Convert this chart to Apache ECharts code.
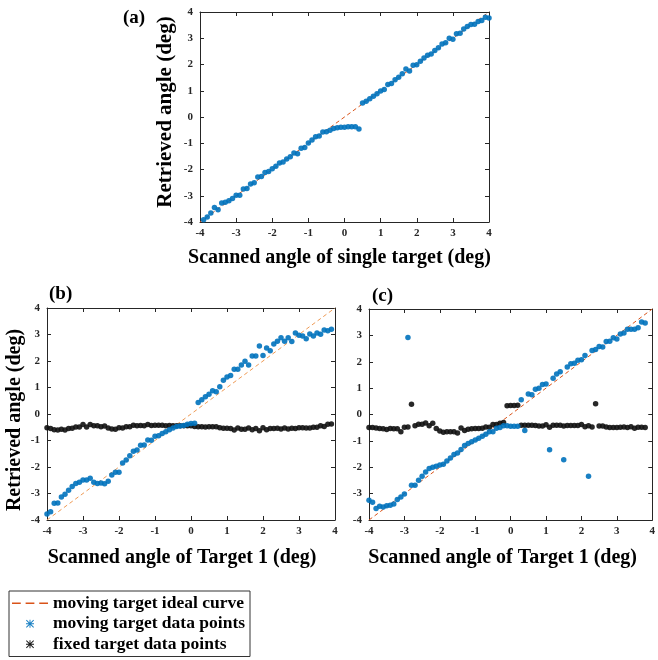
<!DOCTYPE html>
<html>
<head>
<meta charset="utf-8">
<script src="https://cdn.jsdelivr.net/npm/echarts@6/dist/echarts.min.js"></script>
<style>
  html, body { margin: 0; padding: 0; background: #fff; }
  #chart { width: 658px; height: 660px; }
</style>
</head>
<body>
<div id="chart"></div>
<script>
// ---- data ----
const idealX = [-4, 4];
const idealY = [-4, 4];

// (a) single target
const xA = [-3.9, -3.8, -3.7, -3.6, -3.5, -3.4, -3.3, -3.2, -3.1, -3.0,
  -2.9, -2.8, -2.7, -2.6, -2.5, -2.4, -2.3, -2.2, -2.1, -2.0,
  -1.9, -1.8, -1.7, -1.6, -1.5, -1.4, -1.3, -1.2, -1.1, -1.0,
  -0.9, -0.8, -0.7, -0.6, -0.5, -0.4, -0.3, -0.2, -0.1, 0.0,
  0.1, 0.2, 0.3, 0.4, 0.5, 0.6, 0.7, 0.8, 0.9, 1.0,
  1.1, 1.2, 1.3, 1.4, 1.5, 1.6, 1.7, 1.8, 1.9, 2.0,
  2.1, 2.2, 2.3, 2.4, 2.5, 2.6, 2.7, 2.8, 2.9, 3.0,
  3.1, 3.2, 3.3, 3.4, 3.5, 3.6, 3.7, 3.8, 3.9, 4.0];
const movingA = [-3.91, -3.81, -3.66, -3.45, -3.53, -3.28, -3.25, -3.19, -3.10, -2.98,
  -2.98, -2.74, -2.72, -2.55, -2.50, -2.29, -2.27, -2.11, -2.08, -1.97,
  -1.88, -1.75, -1.71, -1.60, -1.51, -1.37, -1.40, -1.19, -1.16, -0.99,
  -0.88, -0.75, -0.72, -0.57, -0.56, -0.50, -0.44, -0.41, -0.39, -0.39,
  -0.37, -0.37, -0.37, -0.46, 0.53, 0.60, 0.70, 0.79, 0.89, 0.99,
  1.05, 1.24, 1.28, 1.42, 1.51, 1.65, 1.83, 1.75, 1.97, 1.99,
  2.12, 2.25, 2.35, 2.40, 2.53, 2.64, 2.78, 2.83, 3.00, 2.96,
  3.17, 3.19, 3.35, 3.45, 3.52, 3.53, 3.64, 3.68, 3.80, 3.77];

// (b) two targets
const xB = [-4.0, -3.9, -3.8, -3.7, -3.6, -3.5, -3.4, -3.3, -3.2, -3.1,
  -3.0, -2.9, -2.8, -2.7, -2.6, -2.5, -2.4, -2.3, -2.2, -2.1,
  -2.0, -1.9, -1.8, -1.7, -1.6, -1.5, -1.4, -1.3, -1.2, -1.1,
  -1.0, -0.9, -0.8, -0.7, -0.6, -0.5, -0.4, -0.3, -0.2, -0.1,
  0.0, 0.1, 0.2, 0.3, 0.4, 0.5, 0.6, 0.7, 0.8, 0.9,
  1.0, 1.1, 1.2, 1.3, 1.4, 1.5, 1.6, 1.7, 1.8, 1.9,
  2.0, 2.1, 2.2, 2.3, 2.4, 2.5, 2.6, 2.7, 2.8, 2.9,
  3.0, 3.1, 3.2, 3.3, 3.4, 3.5, 3.6, 3.7, 3.8, 3.9];
const movingB = [-3.77, -3.69, -3.37, -3.36, -3.13, -3.03, -2.88, -2.74, -2.62, -2.58,
  -2.49, -2.49, -2.42, -2.58, -2.62, -2.60, -2.63, -2.54, -2.30, -2.20,
  -2.20, -1.85, -1.74, -1.58, -1.41, -1.36, -1.18, -1.17, -0.98, -0.99,
  -0.84, -0.82, -0.74, -0.67, -0.59, -0.53, -0.47, -0.45, -0.43, -0.39,
  -0.36, -0.35, 0.43, 0.54, 0.65, 0.75, 0.88, 0.84, 1.03, 1.27,
  1.40, 1.45, 1.69, 1.69, 1.85, 1.99, 1.85, 2.19, 2.19, 2.57,
  2.21, 2.49, 2.39, 2.64, 2.75, 2.88, 2.75, 2.88, 2.74, 3.06,
  2.97, 2.94, 2.84, 3.02, 2.94, 3.06, 3.01, 3.17, 3.14, 3.20];
const fixedB = [-0.52, -0.55, -0.59, -0.60, -0.58, -0.60, -0.55, -0.54, -0.49, -0.49,
  -0.40, -0.49, -0.40, -0.44, -0.44, -0.48, -0.45, -0.53, -0.57, -0.58,
  -0.52, -0.53, -0.48, -0.48, -0.42, -0.44, -0.43, -0.44, -0.40, -0.43,
  -0.42, -0.42, -0.42, -0.44, -0.43, -0.44, -0.44, -0.44, -0.44, -0.44,
  -0.44, -0.47, -0.48, -0.48, -0.49, -0.48, -0.48, -0.48, -0.52, -0.54,
  -0.54, -0.55, -0.60, -0.53, -0.58, -0.58, -0.53, -0.59, -0.55, -0.63,
  -0.52, -0.59, -0.55, -0.55, -0.54, -0.57, -0.53, -0.57, -0.54, -0.55,
  -0.52, -0.52, -0.53, -0.53, -0.50, -0.50, -0.44, -0.47, -0.39, -0.38];

// (c) two targets, second case
const xC = [-4.0, -3.9, -3.8, -3.7, -3.6, -3.5, -3.4, -3.3, -3.2, -3.1,
  -3.0, -2.9, -2.8, -2.7, -2.6, -2.5, -2.4, -2.3, -2.2, -2.1,
  -2.0, -1.9, -1.8, -1.7, -1.6, -1.5, -1.4, -1.3, -1.2, -1.1,
  -1.0, -0.9, -0.8, -0.7, -0.6, -0.5, -0.4, -0.3, -0.2, -0.1,
  0.0, 0.1, 0.2, 0.3, 0.4, 0.5, 0.6, 0.7, 0.8, 0.9,
  1.0, 1.1, 1.2, 1.3, 1.4, 1.5, 1.6, 1.7, 1.8, 1.9,
  2.0, 2.1, 2.2, 2.3, 2.4, 2.5, 2.6, 2.7, 2.8, 2.9,
  3.0, 3.1, 3.2, 3.3, 3.4, 3.5, 3.6, 3.7, 3.8];
const movingC = [-3.25, -3.33, -3.56, -3.48, -3.51, -3.46, -3.44, -3.39, -3.22, -3.13,
  -3.01, 2.92, -2.68, -2.68, -2.49, -2.34, -2.18, -2.05, -2.00, -1.96,
  -1.91, -1.89, -1.76, -1.65, -1.52, -1.46, -1.33, -1.18, -1.10, -1.03,
  -0.97, -0.90, -0.82, -0.75, -0.65, -0.65, -0.52, -0.49, -0.43, -0.43,
  -0.45, -0.45, -0.45, 0.56, -0.61, 0.78, 0.75, 0.96, 1.00, 1.14,
  1.16, -1.34, 1.37, 1.54, 1.62, -1.72, 1.80, 1.92, 1.94, 2.06,
  2.08, 2.24, -2.34, 2.43, 2.46, 2.58, 2.56, 2.77, 2.78, 2.91,
  2.86, 3.05, 3.09, 3.23, 3.23, 3.23, 3.29, 3.51, 3.47];
const fixedC = [-0.49, -0.49, -0.51, -0.53, -0.54, -0.57, -0.53, -0.54, -0.54, -0.65,
  -0.48, -0.47, 0.39, -0.43, -0.37, -0.37, -0.32, -0.43, -0.33, -0.53,
  -0.63, -0.67, -0.65, -0.65, -0.65, -0.70, -0.51, -0.61, -0.56, -0.54,
  -0.53, -0.53, -0.52, -0.47, -0.48, -0.38, -0.38, -0.33, -0.30, 0.33,
  0.34, 0.34, 0.35, -0.41, -0.41, -0.41, -0.41, -0.42, -0.44, -0.44,
  -0.39, -0.48, -0.41, -0.41, -0.41, -0.44, -0.42, -0.42, -0.42, -0.42,
  -0.38, -0.46, -0.43, -0.47, 0.41, -0.44, -0.44, -0.47, -0.49, -0.49,
  -0.49, -0.48, -0.47, -0.49, -0.46, -0.52, -0.48, -0.48, -0.49];

const NAME_IDEAL = 'moving target ideal curve';
const NAME_MOVING = 'moving target data points';
const NAME_FIXED = 'fixed target data points';

// ---- styling ----
const serif = '"Liberation Serif", "Times New Roman", serif';
const axisCol = '#262626';
const blue = '#0072BD';
const orange = '#D95319';
const star = 'path://M4.4,0h1.2v10h-1.2z M0,4.4h10v1.2h-10z M0.85,0L10,9.15L9.15,10L0,0.85z M9.15,0L10,0.85L0.85,10L0,9.15z';
const dashIcon = 'path://M0,0h9v1.6h-9z M14,0h9v1.6h-9z M28,0h9v1.6h-9z';

function zip(xs, ys) {
  return xs.map((x, i) => [x, ys[i]]);
}

function mainX(gi, name, gap, shift) {
  return {
    type: 'value', gridIndex: gi, min: -4, max: 4, interval: 1, position: 'bottom',
    name: name, nameLocation: 'middle', nameGap: gap,
    nameTextStyle: { fontFamily: serif, fontWeight: 'bold', fontSize: 20, color: '#000', padding: [0, shift, 0, 0] },
    axisLine: { show: true, onZero: false, lineStyle: { color: axisCol, width: 1 } },
    axisTick: { show: true, inside: true, length: 4, lineStyle: { color: axisCol } },
    axisLabel: { fontFamily: serif, fontWeight: 'bold', fontSize: 11, color: axisCol, margin: 6 },
    splitLine: { show: false }
  };
}
function boxX(gi) {
  return {
    type: 'value', gridIndex: gi, min: -4, max: 4, interval: 1, position: 'top',
    axisLine: { show: true, onZero: false, lineStyle: { color: axisCol, width: 1 } },
    axisTick: { show: true, inside: true, length: 4, lineStyle: { color: axisCol } },
    axisLabel: { show: false }, splitLine: { show: false }
  };
}
// pad: [left, right] padding of the rotated name, used to nudge it along the axis
function mainY(gi, name, gap, size, pad) {
  return {
    type: 'value', gridIndex: gi, min: -4, max: 4, interval: 1, position: 'left',
    name: name, nameLocation: 'middle', nameGap: gap, nameRotate: 90,
    nameTextStyle: { fontFamily: serif, fontWeight: 'bold', fontSize: size, color: '#000', padding: [0, pad[1], 0, pad[0]] },
    axisLine: { show: true, onZero: false, lineStyle: { color: axisCol, width: 1 } },
    axisTick: { show: true, inside: true, length: 4, lineStyle: { color: axisCol } },
    axisLabel: { fontFamily: serif, fontWeight: 'bold', fontSize: 11, color: axisCol, margin: 7 },
    splitLine: { show: false }
  };
}
function boxY(gi) {
  return {
    type: 'value', gridIndex: gi, min: -4, max: 4, interval: 1, position: 'right',
    axisLine: { show: true, onZero: false, lineStyle: { color: axisCol, width: 1 } },
    axisTick: { show: true, inside: true, length: 4, lineStyle: { color: axisCol } },
    axisLabel: { show: false }, splitLine: { show: false }
  };
}

function idealLine(gi, color) {
  return {
    name: NAME_IDEAL, type: 'line', xAxisIndex: gi * 2, yAxisIndex: gi * 2,
    data: zip(idealX, idealY), showSymbol: false, symbol: 'none', z: 2,
    lineStyle: { color: color, width: 1, type: [4, 3] },
    itemStyle: { color: color }, silent: true
  };
}
function dots(gi, name, xs, ys, color) {
  return {
    name: name, type: 'scatter', xAxisIndex: gi * 2, yAxisIndex: gi * 2,
    data: zip(xs, ys), symbol: 'circle', symbolSize: 5.5, z: 3,
    itemStyle: { color: color, opacity: 0.9 }
  };
}

const labelStyle = { fontFamily: serif, fontWeight: 'bold', fontSize: 19, color: '#000' };

const chart = echarts.init(document.getElementById('chart'), null, { renderer: 'canvas' });
chart.setOption({
  animation: false,
  backgroundColor: '#fff',
  title: [
    { text: '(a)', left: 118, top: 4, textStyle: labelStyle },
    { text: '(b)', left: 44, top: 280, textStyle: labelStyle },
    { text: '(c)', left: 367, top: 282, textStyle: labelStyle }
  ],
  grid: [
    { left: 200, top: 12, width: 289, height: 210 },
    { left: 47, top: 308, width: 288, height: 212 },
    { left: 369, top: 309, width: 288, height: 211 }
  ],
  xAxis: [
    mainX(0, 'Scanned angle of single target (deg)', 26, 10), boxX(0),
    mainX(1, 'Scanned angle of Target 1 (deg)', 28, 18), boxX(1),
    mainX(2, 'Scanned angle of Target 1 (deg)', 28, 16), boxX(2)
  ],
  yAxis: [
    mainY(0, 'Retrieved angle (deg)', 24, 21, [10, 0]), boxY(0),
    mainY(1, 'Retrieved angle (deg)', 22, 20, [0, 12]), boxY(1),
    mainY(2, '', 22, 20, [0, 0]), boxY(2)
  ],
  legend: {
    orient: 'vertical', left: 9, top: 591,
    borderColor: '#333', borderWidth: 1, padding: [2, 5, 2, 3],
    itemWidth: 36, itemHeight: 8, itemGap: 0,
    textStyle: { fontFamily: serif, fontWeight: 'bold', fontSize: 17.5, color: '#000', lineHeight: 20.5 },
    data: [
      { name: NAME_IDEAL, icon: dashIcon, itemStyle: { color: orange } },
      { name: NAME_MOVING, icon: star, itemStyle: { color: blue } },
      { name: NAME_FIXED, icon: star, itemStyle: { color: '#000' } }
    ],
    selectedMode: false
  },
  series: [
    idealLine(0, orange),
    dots(0, NAME_MOVING, xA, movingA, blue),
    idealLine(1, '#EE9A55'),
    dots(1, NAME_FIXED, xB, fixedB, '#111'),
    dots(1, NAME_MOVING, xB, movingB, blue),
    idealLine(2, orange),
    dots(2, NAME_FIXED, xC, fixedC, '#111'),
    dots(2, NAME_MOVING, xC, movingC, blue)
  ]
});
</script>
</body>
</html>
